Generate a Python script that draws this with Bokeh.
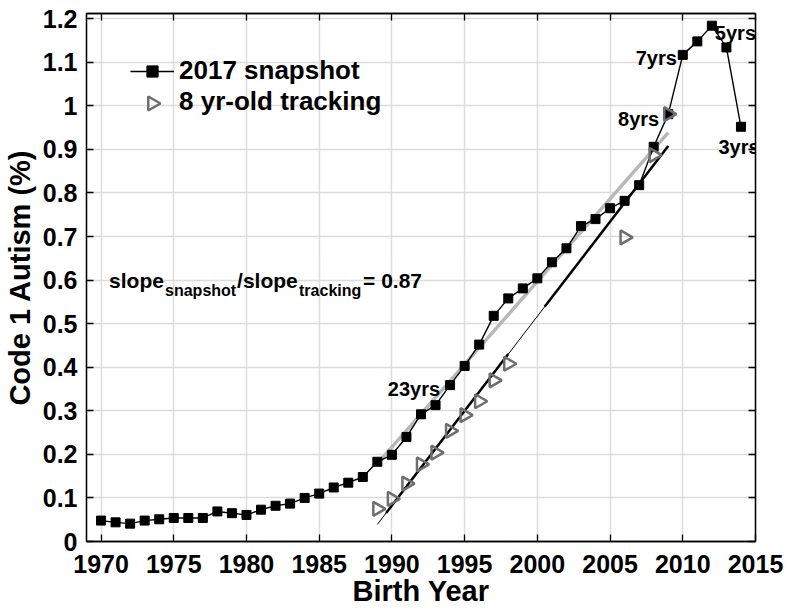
import numpy as np
from bokeh.plotting import figure
from bokeh.models import Range1d, LinearAxis, Label, Legend, LegendItem, FixedTicker
from bokeh.embed import file_html
from bokeh.resources import INLINE

# ---------------- data ----------------
snap_years = list(range(1970, 2015))
snap_vals = [0.048, 0.044, 0.041, 0.048, 0.051, 0.054, 0.054, 0.054, 0.069, 0.065,
             0.061, 0.073, 0.082, 0.087, 0.100, 0.110, 0.124, 0.135, 0.148, 0.183,
             0.199, 0.240, 0.292, 0.313, 0.359, 0.403, 0.452, 0.518, 0.558, 0.581,
             0.604, 0.641, 0.673, 0.724, 0.740, 0.765, 0.782, 0.818, 0.906, 0.981,
             1.117, 1.148, 1.184, 1.134, 0.952]
track_years = [1989, 1990, 1991, 1992, 1993, 1994, 1995, 1996, 1997, 1998, 2006, 2008, 2009]
track_vals = [0.075, 0.098, 0.133, 0.177, 0.204, 0.254, 0.290, 0.322, 0.370, 0.408,
              0.698, 0.887, 0.981]
fit_start, fit_end = 1989, 2009
x_ticks = [1970, 1975, 1980, 1985, 1990, 1995, 2000, 2005, 2010, 2015]
y_ticks = [0, 0.1, 0.2, 0.3, 0.4, 0.5, 0.6, 0.7, 0.8, 0.9, 1, 1.1, 1.2]
y_tick_labels = {0: "0", 1: "1"}
age_labels = ["23yrs", "8yrs", "7yrs", "5yrs", "3yrs"]
age_years = [1994, 2009, 2010, 2012, 2014]
legend_labels = ["2017 snapshot", "8 yr-old tracking"]
ratio_text = "= 0.87"

FONT = "Liberation Sans"

# layout constants
W, H = 786, 610
BL, BR, BT, BB = 84, 31, 13, 69
X0, X1, Y0, Y1 = 1969, 2015, 0, 1.212
LEG_X, LEG_Y, GLYPH_W, ROW_H = 44, 424, 44, 28

# ---------------- fits ----------------
sy = np.array(snap_years, dtype=float)
sv = np.array(snap_vals)
mask = (sy >= fit_start) & (sy <= fit_end)
snap_fit = np.polyfit(sy[mask], sv[mask], 1)
track_fit = np.polyfit(np.array(track_years, float), np.array(track_vals), 1)

p = figure(width=W, height=H, output_backend="svg", toolbar_location=None,
           x_range=Range1d(X0, X1), y_range=Range1d(Y0, Y1),
           min_border_left=BL, min_border_right=BR, min_border_top=BT, min_border_bottom=BB)
p.outline_line_color = "black"
p.outline_line_width = 1.3

# grid
p.xgrid.ticker = FixedTicker(ticks=x_ticks)
p.ygrid.ticker = FixedTicker(ticks=y_ticks)
for g in (p.xgrid, p.ygrid):
    g.grid_line_color = "#dcdcdc"
    g.grid_line_width = 1.5

def style_axis(ax, show_labels=True):
    ax.major_tick_in = 7
    ax.major_tick_out = 0
    ax.minor_tick_line_color = None
    ax.axis_line_color = "black"
    ax.axis_line_width = 1.3
    ax.major_tick_line_color = "black"
    ax.major_tick_line_width = 1.3
    ax.major_label_text_font = FONT
    ax.major_label_text_font_style = "bold"
    ax.major_label_text_line_height = 1.0
    if show_labels:
        ax.major_label_text_color = "black"
        ax.major_label_text_font_size = "25px"
    else:
        ax.major_label_text_color = None
        ax.major_label_text_font_size = "0px"
        ax.major_label_standoff = 0

p.xaxis.ticker = FixedTicker(ticks=x_ticks)
p.yaxis.ticker = FixedTicker(ticks=y_ticks)
p.yaxis.major_label_overrides = y_tick_labels
style_axis(p.xaxis[0])
style_axis(p.yaxis[0])
p.xaxis.major_label_standoff = 13
p.yaxis.major_label_standoff = 9
p.xaxis.axis_label = "Birth Year"
p.yaxis.axis_label = "Code 1 Autism (%)"
for ax in (p.xaxis[0], p.yaxis[0]):
    ax.axis_label_text_font = FONT
    ax.axis_label_text_font_style = "bold"
    ax.axis_label_text_font_size = "29px"
    ax.axis_label_text_color = "black"
    ax.axis_label_text_line_height = 1.0
p.xaxis.axis_label_standoff = -1
p.yaxis.axis_label_standoff = 4

top_ax = LinearAxis(ticker=FixedTicker(ticks=x_ticks))
right_ax = LinearAxis(ticker=FixedTicker(ticks=y_ticks))
style_axis(top_ax, False)
style_axis(right_ax, False)
p.add_layout(top_ax, "above")
p.add_layout(right_ax, "right")

# ---------------- glyphs ----------------
fx = np.array([fit_start, fit_end], dtype=float)
p.line(fx, np.polyval(snap_fit, fx), line_color="#b8b8b8", line_width=3.5)

snap_line = p.line(snap_years, snap_vals, line_color="black", line_width=1.4)
snap_pts = p.scatter(snap_years, snap_vals, marker="square", size=9,
                     fill_color="black", line_color="black")

p.line(fx, np.polyval(track_fit, fx), line_color="black", line_width=1.0)
for a, b in [(1989.6, 1998.0), (2000.5, 2009.0)]:
    sx = np.array([a, b])
    p.line(sx, np.polyval(track_fit, sx), line_color="black", line_width=2.5)

TRI_STYLE = dict(marker="triangle", angle=-np.pi / 2, size=14, fill_color=None,
                 line_color="#6e6e6e", line_width=2.5)
tri = p.scatter(track_years, track_vals, **TRI_STYLE)

# ---------------- legend ----------------
# invisible stand-in renderer for the second legend row (legend glyphs ignore angle);
# the right-pointing swatch is drawn separately at the legend row position
dummy = p.scatter([], [], marker="triangle", line_alpha=0, fill_alpha=0)
legend = Legend(items=[LegendItem(label=legend_labels[0], renderers=[snap_line, snap_pts]),
                       LegendItem(label=legend_labels[1], renderers=[dummy])],
                location=(LEG_X, LEG_Y), border_line_color=None, background_fill_alpha=0,
                label_text_font=FONT, label_text_font_style="bold", label_text_font_size="26px",
                label_text_color="black", label_text_line_height=1.0,
                glyph_width=GLYPH_W, glyph_height=ROW_H, label_height=ROW_H, label_standoff=5,
                spacing=0, padding=0, margin=0)
p.add_layout(legend)

frame_w = W - BL - BR
frame_h = H - BT - BB
sw_x = X0 + (LEG_X + GLYPH_W / 2) * (X1 - X0) / frame_w
sw_y = Y0 + (LEG_Y + ROW_H / 2) * (Y1 - Y0) / frame_h
p.scatter([sw_x], [sw_y], **TRI_STYLE)

# ---------------- annotations ----------------
lookup = dict(zip(snap_years, snap_vals))
tlookup = dict(zip(track_years, track_vals))
age_pos = [
    (lookup[age_years[0]], "right", -10, -4),
    (tlookup[age_years[1]], "right", -9, -5),
    (lookup[age_years[2]], "right", -6, -3),
    (lookup[age_years[3]], "left", 3, -7),
    (lookup[age_years[4]], "center", -2, -20),
]
for txt, yr, (yv, al, xo, yo) in zip(age_labels, age_years, age_pos):
    p.add_layout(Label(x=yr, y=yv, text=txt, text_align=al, text_baseline="alphabetic",
                       x_offset=xo, y_offset=yo, text_font=FONT, text_font_style="bold",
                       text_font_size="20px", text_color="black"))

sx0, sy0 = 1970.55, 0.598
parts = [("slope", 0, 0, "21px"), ("snapshot", 56, -10, "16px"), ("/slope", 128, 0, "21px"),
         ("tracking", 190, -10, "16px"), (ratio_text, 254, 0, "21px")]
for txt, xo, yo, fs in parts:
    p.add_layout(Label(x=sx0, y=sy0, text=txt, x_offset=xo, y_offset=yo,
                       text_align="left", text_baseline="alphabetic",
                       text_font=FONT, text_font_style="bold", text_font_size=fs,
                       text_color="black"))

open("out.html", "w").write(file_html(p, INLINE))
